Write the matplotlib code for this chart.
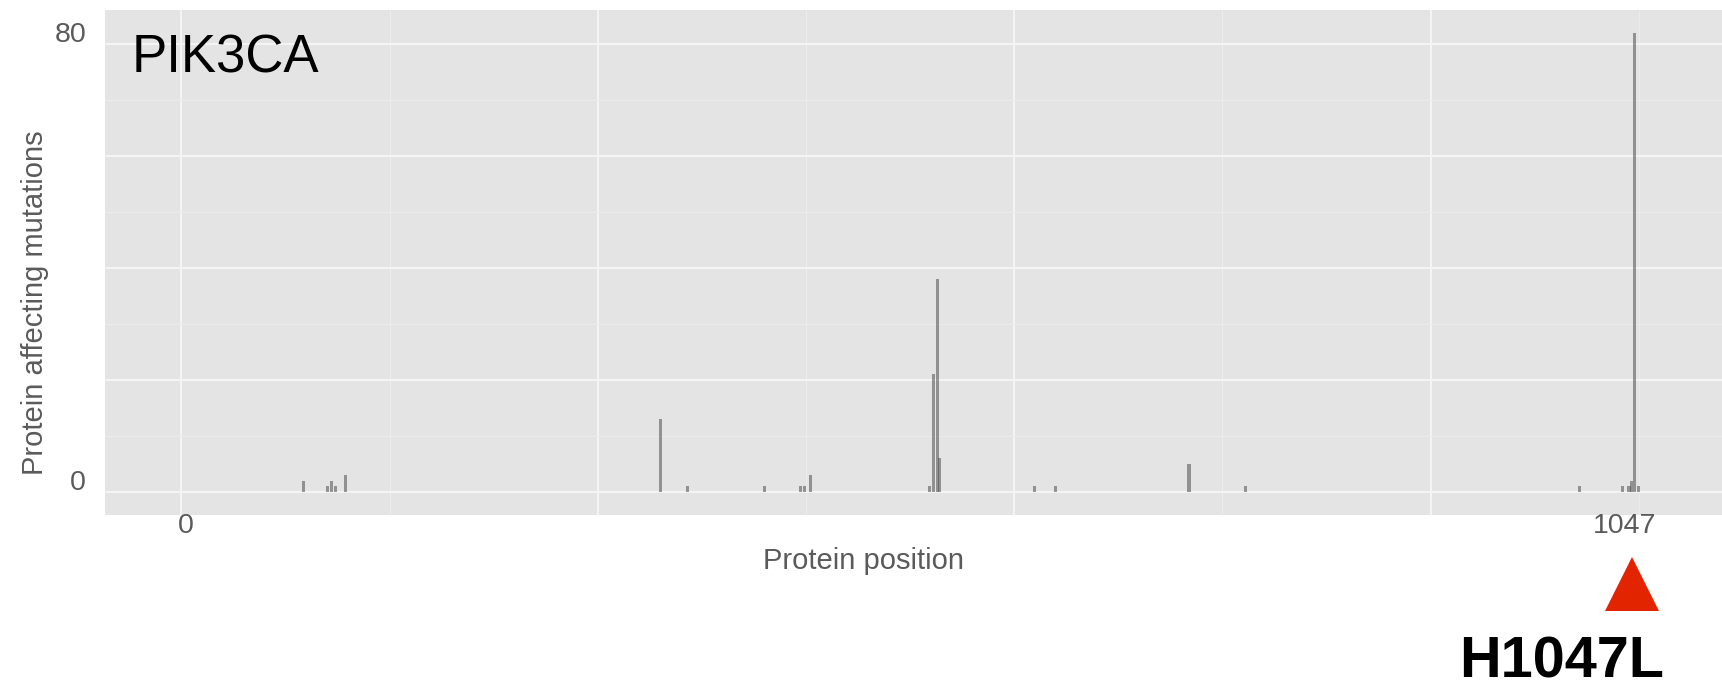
import matplotlib
matplotlib.use("Agg")
import matplotlib.pyplot as plt
import matplotlib.transforms as mtransforms

plt.rcParams['font.family'] = ['Liberation Sans', 'DejaVu Sans']

## mutation positions along PIK3CA and counts
positions = [88, 105, 108, 111, 118, 345, 365, 420, 446, 449, 453,
             539, 542, 545, 546, 615, 630, 726, 767,
             1007, 1038, 1043, 1045, 1047, 1050]
counts = [2, 1, 2, 1, 3, 13, 1, 1, 1, 1, 3,
          1, 21, 38, 6, 1, 1, 5, 1,
          1, 1, 1, 2, 82, 1]

gene = "PIK3CA"
hotspot = "H1047L"
hotspot_pos = 1047
protein_len = 1047
y_labels = [0, 80]

grey_txt = "#5a5a5a"

fig = plt.figure(figsize=(17.22, 6.88), dpi=100)
ax = fig.add_axes([105/1722, 1 - 515/688, 1 - 105/1722, 505/688])
ax.set_facecolor("#e4e4e4")

## grid, ggplot style: major + minor lines in white-ish
for x in [0, 300, 600, 900]:
   ax.axvline(x, color="#f4f4f4", lw=1.5, zorder=0)
for x in [150, 450, 750, 1050]:
   ax.axvline(x, color="#ebebeb", lw=0.8, zorder=0)
for y in [0, 20, 40, 60, 80]:
   ax.axhline(y, color="#f4f4f4", lw=1.5, zorder=0)
for y in [10, 30, 50, 70]:
   ax.axhline(y, color="#ebebeb", lw=0.8, zorder=0)

ax.bar(positions, counts, width=2.2, color="#4d4d4d", alpha=0.55,
       linewidth=0, zorder=2)

ax.set_xlim(-55, 1110)
ax.set_ylim(-4.1, 86.1)
ax.set_xticks([])
ax.set_yticks([])
for s in ax.spines.values():
   s.set_visible(False)

## tick labels (shifted like in the source image)
for v in y_labels:
   ax.annotate(str(v), xy=(0, v), xycoords=("axes fraction", "data"),
               xytext=(-19, 9), textcoords="offset pixels",
               ha="right", va="center", fontsize=20.5, color=grey_txt,
               annotation_clip=False)
for v in [0, protein_len]:
   ax.annotate(str(v), xy=(v, 0), xycoords=("data", "axes fraction"),
               xytext=(-10 if v else 4, -11), textcoords="offset pixels",
               ha="center", va="center", fontsize=20.5, color=grey_txt,
               annotation_clip=False)

ax.annotate("Protein position", xy=(0.469, 0), xycoords="axes fraction",
            xytext=(0, -46), textcoords="offset pixels",
            ha="center", va="center", fontsize=21, color=grey_txt,
            annotation_clip=False)
ax.annotate("Protein affecting mutations", xy=(0, 33.9),
            xycoords=("axes fraction", "data"),
            xytext=(-70, 0), textcoords="offset pixels",
            ha="center", va="center", rotation=90, fontsize=21,
            color=grey_txt, annotation_clip=False)

ax.text(-35.5, 75.0, gene, ha="left", va="baseline", fontsize=38,
        color="black", zorder=5)

## hotspot marker under the axis (nudged a few pixels left, as in the source)
nudge = mtransforms.offset_copy(ax.transData, fig=fig, x=-3, y=0, units="dots")
ax.plot([hotspot_pos], [-16.5], marker="^", markersize=39, color="#e22400",
        markeredgewidth=0, clip_on=False, zorder=5, transform=nudge)
ax.text(994.5, -33.2, hotspot, ha="center", va="baseline", fontsize=41.5,
        fontweight="bold", color="black", clip_on=False)

plt.savefig("out.png", dpi=100)
